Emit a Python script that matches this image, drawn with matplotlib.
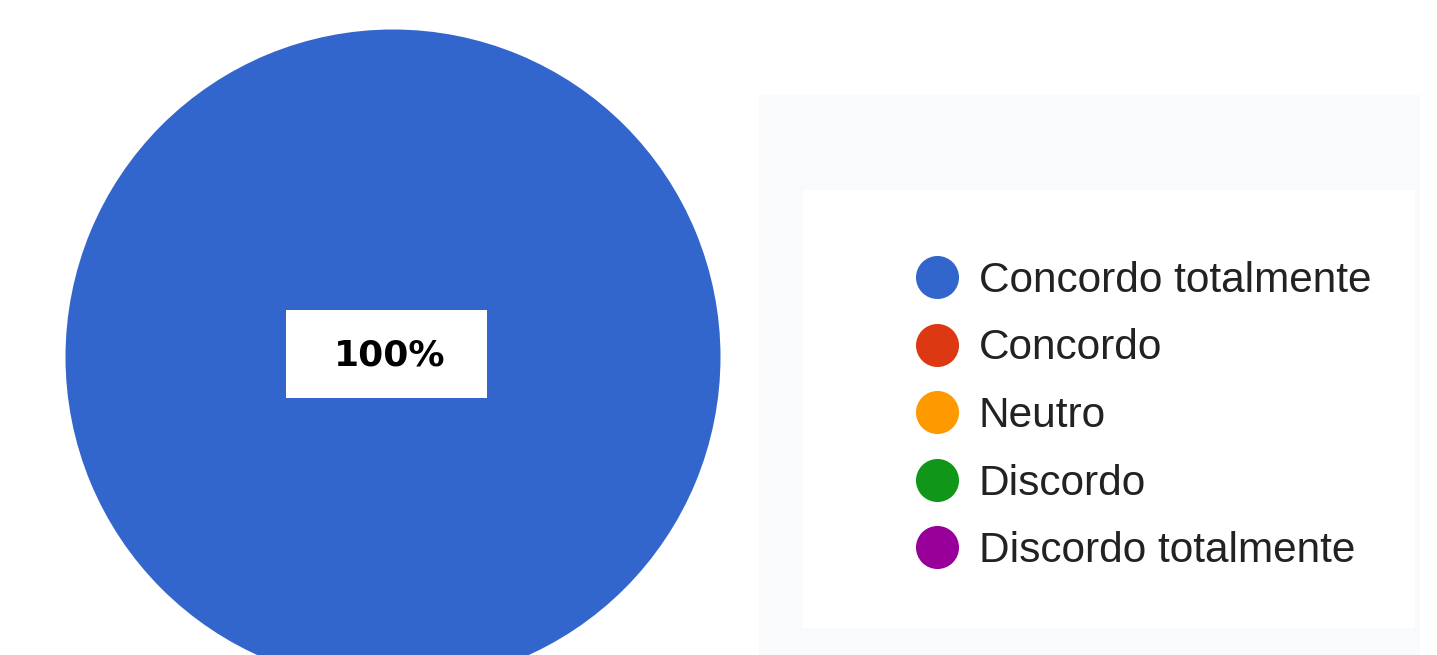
import matplotlib.pyplot as plt
from matplotlib.lines import Line2D
from matplotlib.patches import Rectangle

# data
categories = ['Concordo totalmente', 'Concordo', 'Neutro', 'Discordo', 'Discordo totalmente']
values = [100, 0, 0, 0, 0]
colors = ['#3366cc', '#dc3912', '#ff9900', '#109618', '#990099']

W, H = 1437, 655
fig = plt.figure(figsize=(W / 100, H / 100), dpi=100)
fig.patch.set_facecolor('white')
ax = fig.add_axes([0, 0, 1, 1])

# only draw the slices that have a share
shown = [(v, c) for v, c in zip(values, colors) if v > 0]
pie_center = (393, 357)
ax.pie([v for v, c in shown], colors=[c for v, c in shown],
       center=pie_center, radius=327.5, startangle=90, counterclock=False)

# percentage label in a white box
total = sum(values)
ax.add_patch(Rectangle((pie_center[0] - 107, pie_center[1] - 47), 201, 88,
                       facecolor='white', edgecolor='none', zorder=3))
ax.text(pie_center[0] - 3, pie_center[1] - 2, f'{values[0] / total * 100:.0f}%',
        ha='center', va='center', fontsize=26, fontweight='bold',
        family='DejaVu Sans', color='black', zorder=4)

# faint panel behind legend, then white legend card
ax.add_patch(Rectangle((759, 95), 661, 600, facecolor='#f9fafb', edgecolor='none', zorder=0))
ax.add_patch(Rectangle((803, 190), 612, 438, facecolor='white', edgecolor='none', zorder=1))

handles = [Line2D([], [], marker='o', linestyle='', markersize=31,
                  markerfacecolor=c, markeredgewidth=0) for c in colors]
leg = ax.legend(handles, categories, loc='center left',
                bbox_to_anchor=(916 / W, 1 - 416 / H), frameon=False,
                prop={'family': 'Liberation Sans', 'size': 30.5},
                labelcolor='#222222', handlelength=1.0, handletextpad=0.48,
                labelspacing=0.65, borderpad=0, borderaxespad=0)
leg.set_zorder(5)

ax.set_xlim(0, W)
ax.set_ylim(H, 0)
ax.set_aspect('equal')
ax.axis('off')

plt.savefig('out.png', dpi=100)
plt.close()
